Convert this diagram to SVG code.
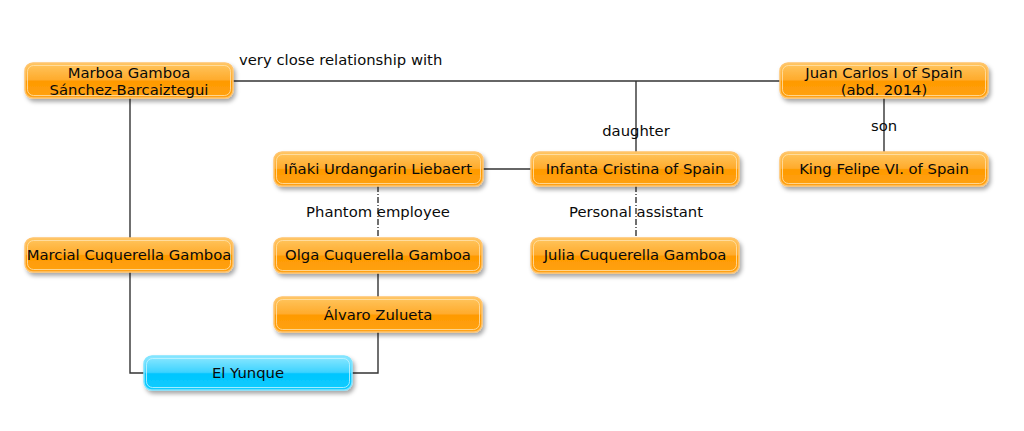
<svg xmlns="http://www.w3.org/2000/svg" width="1024" height="431" viewBox="0 0 1024 431">
<defs>
<linearGradient id="gOr" x1="0" y1="0" x2="0" y2="1">
<stop offset="0" stop-color="#ffc660"/>
<stop offset="0.48" stop-color="#ffab2c"/>
<stop offset="0.52" stop-color="#ff9a00"/>
<stop offset="1" stop-color="#ffa214"/>
</linearGradient>
<linearGradient id="gCy" x1="0" y1="0" x2="0" y2="1">
<stop offset="0" stop-color="#8ee8ff"/>
<stop offset="0.48" stop-color="#3dd3ff"/>
<stop offset="0.52" stop-color="#00c6ff"/>
<stop offset="1" stop-color="#10ccff"/>
</linearGradient>
<filter id="sh" x="-10%" y="-20%" width="130%" height="160%">
<feDropShadow dx="2" dy="3" stdDeviation="2" flood-color="#000" flood-opacity="0.35"/>
</filter>
</defs>
<style>
.n rect.b{fill:url(#gOr);stroke:#ffc46e;stroke-width:1.5;filter:url(#sh)}
.n rect.i{fill:none;stroke:#ffe2b0;stroke-width:0.8}
.c rect.b{fill:url(#gCy);stroke:#7fe4ff;stroke-width:1.5;filter:url(#sh)}
.c rect.i{fill:none;stroke:#c8f4ff;stroke-width:0.8}
text{font-family:"DejaVu Sans",sans-serif;font-size:14.8px;fill:#0a0a0a}
.t{text-anchor:middle}
.e{fill:none;stroke:#333;stroke-width:1.4}
.d{stroke-dasharray:6 2 1 2}
</style>
<rect width="1024" height="431" fill="#fff"/>
<g id="connectors">
<path class="e" d="M233 81H780"/>
<path class="e" d="M636 81V152"/>
<path class="e" d="M884 98V152"/>
<path class="e" d="M483 169H531"/>
<path class="e" d="M130 98V238"/>
<path class="e" d="M130 272V373H144"/>
<path class="e" d="M378 273V297"/>
<path class="e" d="M378 332V373H352"/>
<path class="e d" d="M378 186V238"/>
<path class="e d" d="M636 186V238"/>
<text x="239" y="65">very close relationship with</text>
<text class="t" x="636" y="136">daughter</text>
<text class="t" x="884" y="131">son</text>
<text class="t" x="378" y="217">Phantom employee</text>
<text class="t" x="636" y="217">Personal assistant</text>
</g>
<g id="marboa" class="n"><rect class="b" x="25" y="63" width="208" height="35" rx="8"/><rect class="i" x="27.5" y="65.5" width="203" height="30" rx="6"/><text class="t" x="129" y="78">Marboa Gamboa</text><text class="t" x="129" y="95">Sánchez-Barcaiztegui</text></g>
<g id="juancarlos" class="n"><rect class="b" x="780" y="63" width="208" height="35" rx="8"/><rect class="i" x="782.5" y="65.5" width="203" height="30" rx="6"/><text class="t" x="884" y="78">Juan Carlos I of Spain</text><text class="t" x="884" y="95">(abd. 2014)</text></g>
<g id="felipe" class="n"><rect class="b" x="780" y="152" width="208" height="34" rx="8"/><rect class="i" x="782.5" y="154.5" width="203" height="29" rx="6"/><text class="t" x="884" y="174">King Felipe VI. of Spain</text></g>
<g id="inaki" class="n"><rect class="b" x="274" y="152" width="209" height="34" rx="8"/><rect class="i" x="276.5" y="154.5" width="204" height="29" rx="6"/><text class="t" x="378" y="174">Iñaki Urdangarin Liebaert</text></g>
<g id="infanta" class="n"><rect class="b" x="531" y="152" width="208" height="34" rx="8"/><rect class="i" x="533.5" y="154.5" width="203" height="29" rx="6"/><text class="t" x="635" y="174">Infanta Cristina of Spain</text></g>
<g id="marcial" class="n"><rect class="b" x="25" y="238" width="208" height="34" rx="8"/><rect class="i" x="27.5" y="240.5" width="203" height="29" rx="6"/><text class="t" x="129" y="260">Marcial Cuquerella Gamboa</text></g>
<g id="olga" class="n"><rect class="b" x="274" y="238" width="208" height="35" rx="8"/><rect class="i" x="276.5" y="240.5" width="203" height="30" rx="6"/><text class="t" x="378" y="260">Olga Cuquerella Gamboa</text></g>
<g id="julia" class="n"><rect class="b" x="531" y="238" width="208" height="35" rx="8"/><rect class="i" x="533.5" y="240.5" width="203" height="30" rx="6"/><text class="t" x="635" y="260">Julia Cuquerella Gamboa</text></g>
<g id="alvaro" class="n"><rect class="b" x="274" y="297" width="208" height="35" rx="8"/><rect class="i" x="276.5" y="299.5" width="203" height="30" rx="6"/><text class="t" x="378" y="320">Álvaro Zulueta</text></g>
<g id="elyunque" class="c"><rect class="b" x="144" y="356" width="208" height="34" rx="8"/><rect class="i" x="146.5" y="358.5" width="203" height="29" rx="6"/><text class="t" x="248" y="378">El Yunque</text></g>
</svg>
